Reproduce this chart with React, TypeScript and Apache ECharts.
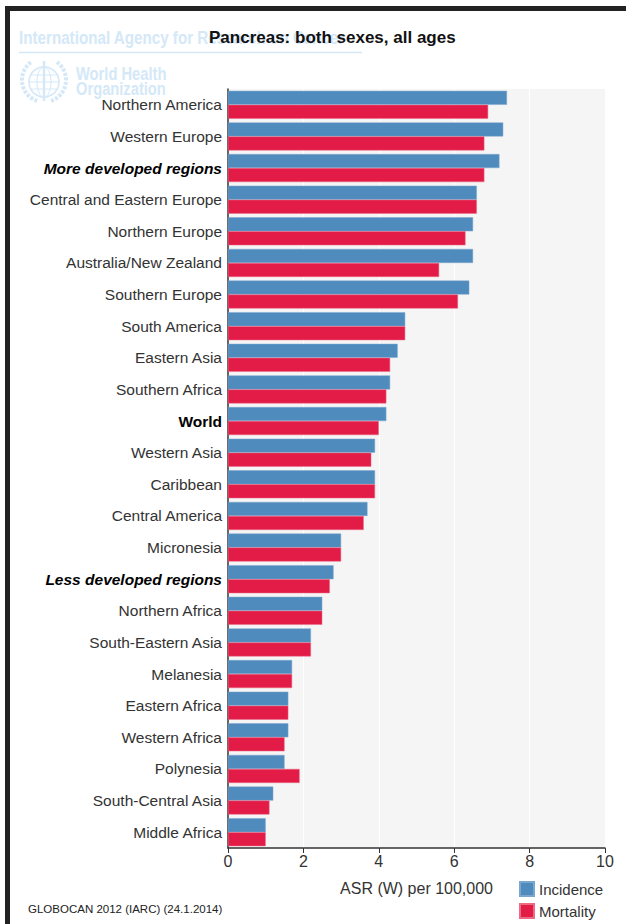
import React, { useEffect, useRef } from "react";
import * as echarts from "echarts";

const categories = [
  "Northern America",
  "Western Europe",
  "More developed regions",
  "Central and Eastern Europe",
  "Northern Europe",
  "Australia/New Zealand",
  "Southern Europe",
  "South America",
  "Eastern Asia",
  "Southern Africa",
  "World",
  "Western Asia",
  "Caribbean",
  "Central America",
  "Micronesia",
  "Less developed regions",
  "Northern Africa",
  "South-Eastern Asia",
  "Melanesia",
  "Eastern Africa",
  "Western Africa",
  "Polynesia",
  "South-Central Asia",
  "Middle Africa",
];
const incidence = [7.4, 7.3, 7.2, 6.6, 6.5, 6.5, 6.4, 4.7, 4.5, 4.3, 4.2, 3.9, 3.9, 3.7, 3.0, 2.8, 2.5, 2.2, 1.7, 1.6, 1.6, 1.5, 1.2, 1.0];
const mortality = [6.9, 6.8, 6.8, 6.6, 6.3, 5.6, 6.1, 4.7, 4.3, 4.2, 4.0, 3.8, 3.9, 3.6, 3.0, 2.7, 2.5, 2.2, 1.7, 1.6, 1.5, 1.9, 1.1, 1.0];
const seriesNames = ["Incidence", "Mortality"];
const boldCats = ["World"];
const boldItalicCats = ["More developed regions", "Less developed regions"];
const xMin = 0;
const xMax = 10;
const xInterval = 2;

const FONT = "'Liberation Sans', Arial, Helvetica, sans-serif";
const WM = "#d4e8f8";
const LBL = 15.5;

export default function App() {
  const ref = useRef<HTMLDivElement>(null);
  useEffect(() => {
    const chart = echarts.init(ref.current!, null, { renderer: "svg" });
    chart.setOption({
      animation: false,
      textStyle: { fontFamily: FONT },
      graphic: [
        { type: "rect", shape: { x: 5, y: 6, width: 621, height: 5 }, style: { fill: "#222" } },
        { type: "rect", shape: { x: 5, y: 6, width: 5, height: 918 }, style: { fill: "#222" } },
        {
          type: "text",
          x: 19,
          y: 37,
          scaleX: 0.8,
          style: {
            text: "International Agency for Research on Cancer",
            fill: WM,
            font: `bold 19px ${FONT}`,
            verticalAlign: "middle",
          },
        },
        { type: "line", shape: { x1: 19, y1: 52.5, x2: 362, y2: 52.5 }, style: { stroke: WM, lineWidth: 1.5 } },
        // WHO emblem (approximation)
        { type: "circle", shape: { cx: 44, cy: 82, r: 15 }, style: { fill: "none", stroke: WM, lineWidth: 1.5 } },
        { type: "ellipse", shape: { cx: 44, cy: 82, rx: 7, ry: 15 }, style: { fill: "none", stroke: WM, lineWidth: 1 } },
        { type: "line", shape: { x1: 29, y1: 82, x2: 59, y2: 82 }, style: { stroke: WM, lineWidth: 1 } },
        { type: "line", shape: { x1: 31, y1: 75, x2: 57, y2: 75 }, style: { stroke: WM, lineWidth: 1 } },
        { type: "line", shape: { x1: 31, y1: 89, x2: 57, y2: 89 }, style: { stroke: WM, lineWidth: 1 } },
        { type: "line", shape: { x1: 44, y1: 61, x2: 44, y2: 101 }, style: { stroke: WM, lineWidth: 2.5 } },
        {
          type: "arc",
          shape: { cx: 44, cy: 80, r: 22, startAngle: Math.PI * 0.6, endAngle: Math.PI * 1.3 },
          style: { fill: "none", stroke: WM, lineWidth: 4, lineDash: [3, 1.5] },
        },
        {
          type: "arc",
          shape: { cx: 44, cy: 80, r: 22, startAngle: -Math.PI * 0.3, endAngle: Math.PI * 0.4 },
          style: { fill: "none", stroke: WM, lineWidth: 4, lineDash: [3, 1.5] },
        },
        {
          type: "text",
          x: 76,
          y: 74,
          scaleX: 0.84,
          style: {
            text: "World Health",
            fill: WM,
            font: `bold 17.5px ${FONT}`,
            verticalAlign: "middle",
          },
        },
        {
          type: "text",
          x: 76,
          y: 89,
          scaleX: 0.84,
          style: {
            text: "Organization",
            fill: WM,
            font: `bold 17.5px ${FONT}`,
            verticalAlign: "middle",
          },
        },
        {
          type: "text",
          x: 209,
          y: 37,
          style: {
            text: "Pancreas: both sexes, all ages",
            fill: "#111",
            font: `bold 17px ${FONT}`,
            verticalAlign: "middle",
          },
        },
        {
          type: "text",
          x: 28,
          y: 909,
          style: {
            text: "GLOBOCAN 2012 (IARC) (24.1.2014)",
            fill: "#222",
            font: `11.5px ${FONT}`,
            verticalAlign: "middle",
          },
        },
      ],
      legend: {
        data: seriesNames,
        orient: "vertical",
        left: 519,
        top: 881,
        padding: 0,
        itemWidth: 14,
        itemHeight: 14,
        itemGap: 6,
        icon: "rect",
        textStyle: { fontSize: 15, color: "#333", fontFamily: FONT },
      },
      grid: {
        left: 228,
        right: 21,
        top: 89,
        bottom: 76,
        show: true,
        backgroundColor: "#f5f5f5",
        borderWidth: 0,
      },
      xAxis: {
        type: "value",
        min: xMin,
        max: xMax,
        interval: xInterval,
        name: "ASR (W) per 100,000",
        nameLocation: "middle",
        nameGap: 32,
        nameTextStyle: { fontSize: 16, color: "#333", fontFamily: FONT },
        axisLine: { show: true, lineStyle: { color: "#333", width: 1.5 } },
        axisTick: { show: true, length: 5, lineStyle: { color: "#333" } },
        axisLabel: { fontSize: 16, color: "#333", margin: 5, fontFamily: FONT },
        splitLine: { show: true, lineStyle: { color: "#ffffff", width: 1 } },
      },
      yAxis: {
        type: "category",
        data: categories,
        inverse: true,
        axisLine: { show: true, lineStyle: { color: "#333", width: 1.5 } },
        axisTick: { show: false },
        axisLabel: {
          fontSize: LBL,
          color: "#333",
          margin: 6,
          fontFamily: FONT,
          formatter: (v: string) =>
            boldItalicCats.includes(v) ? `{bi|${v}}` : boldCats.includes(v) ? `{b|${v}}` : v,
          rich: {
            b: { fontSize: LBL, fontWeight: "bold", color: "#000", fontFamily: FONT },
            bi: { fontSize: LBL, fontWeight: "bold", fontStyle: "italic", color: "#000", fontFamily: FONT },
          },
        },
        splitLine: { show: false },
      },
      series: [
        {
          name: seriesNames[0],
          type: "bar",
          data: incidence,
          barWidth: 14,
          barGap: "0%",
          itemStyle: { color: "#508bbd", borderColor: "#7aa7d0", borderWidth: 0.5 },
        },
        {
          name: seriesNames[1],
          type: "bar",
          data: mortality,
          barWidth: 14,
          barGap: "0%",
          itemStyle: { color: "#e21b47", borderColor: "#ec6a86", borderWidth: 0.5 },
        },
      ],
    });
    return () => chart.dispose();
  }, []);
  return (
    <div
      ref={ref}
      style={{ position: "fixed", left: 0, top: 0, width: 626, height: 924, background: "#fff" }}
    />
  );
}
